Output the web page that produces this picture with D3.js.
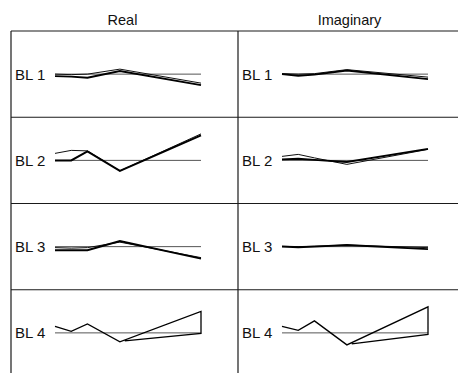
<!DOCTYPE html>
<html>
<head>
<meta charset="utf-8">
<script src="https://cdn.jsdelivr.net/npm/d3@7"></script>
<style>
  html, body { margin: 0; padding: 0; background: #fff; }
  svg { display: block; }
  text { font-family: "Liberation Sans", Arial, Helvetica, sans-serif; fill: #111; }
</style>
</head>
<body>
<svg id="chart"></svg>
<script>
"use strict";

// колонки и строки таблицы
var columns = ["Real", "Imaginary"];
var rows = ["BL 1", "BL 2", "BL 3", "BL 4"];

// отсчеты по горизонтали
var xSteps = [0, 1, 2, 4, 9];
var loopSteps = [9, 9, 4.3]; // обратный ход у BL 4

// значения (вверх = плюс), по строкам: [Real, Imaginary]
var thickReal = [
    [-2, -2.5, -3.5, 3, -11],
    [0, 0, 9, -10.5, 25],
    [-3.5, -3.5, -3.5, 5.5, -12],
    [6.5, 1.5, 9, -9, 21.5]
];
var thinReal = [
    [0, -0.5, 0, 5, -9],
    [7, 10, 9.5, -10.5, 26.5],
    [-1, -1.5, -1, 4.5, -11],
    null
];
var thickImag = [
    [0, -1.5, -0.5, 3.5, -5],
    [1, 1.5, 0.5, -1.5, 11.5],
    [0, -0.5, 0, 1.5, -2.5],
    [6.5, 2.5, 12, -12, 26]
];
var thinImag = [
    [0.5, 0, 0.5, 4.5, -3],
    [4, 6, 2.5, -4, 11],
    [0.5, 0, 0.5, 1.5, -1],
    null
];
var loopReal = [21.5, -0.5, -8];
var loopImag = [26, -1.5, -11];

var width = 458, height = 373;

var svg = d3.select("#chart")
    .attr("width", width)
    .attr("height", height);

var colScale = d3.scaleBand().domain(columns).range([11, 465]);
var rowScale = d3.scaleBand().domain(rows).range([31, 376]);

var xScale = d3.scaleLinear().domain([0, 9]).range([44, 190]);
var yScale = d3.scaleLinear().domain([-40, 40]).range([40, -40]);

// заголовки колонок
svg.selectAll("text.title")
    .data(columns)
    .enter().append("text")
    .attr("class", "title")
    .attr("x", (d) => colScale(d) + colScale.bandwidth() / 2 - 2)
    .attr("y", 25)
    .attr("text-anchor", "middle")
    .style("font-size", "14.5px")
    .text((d) => d);

// сетка
var grid = svg.append("g")
    .attr("stroke", "#1a1a1a")
    .attr("stroke-width", 1.2)
    .attr("fill", "none");

grid.selectAll("line.h")
    .data(rows.concat(["end"]))
    .enter().append("line")
    .attr("x1", 11).attr("x2", 465)
    .attr("y1", (d) => d === "end" ? 376 : rowScale(d))
    .attr("y2", (d) => d === "end" ? 376 : rowScale(d));

grid.selectAll("line.v")
    .data(columns.concat(["end"]))
    .enter().append("line")
    .attr("y1", 31).attr("y2", 376)
    .attr("x1", (d) => d === "end" ? 465 : colScale(d))
    .attr("x2", (d) => d === "end" ? 465 : colScale(d));

var line = d3.line()
    .x((d) => xScale(d[0]))
    .y((d) => yScale(d[1]));

function pairs(xs, ys) {
    return xs.map((x, i) => [x, ys[i]]);
}

columns.forEach(function(col, ci) {
    var thick = ci === 0 ? thickReal : thickImag;
    var thin = ci === 0 ? thinReal : thinImag;
    var loop = ci === 0 ? loopReal : loopImag;

    rows.forEach(function(row, ri) {
        var cell = svg.append("g")
            .attr("transform", `translate(${colScale(col)}, ${rowScale(row) + rowScale.bandwidth() / 2})`);

        cell.append("text")
            .attr("x", 4)
            .attr("y", 5.5)
            .style("font-size", "15px")
            .text(row);

        // нулевая линия
        cell.append("line")
            .attr("x1", xScale(0)).attr("x2", xScale(9))
            .attr("y1", yScale(0)).attr("y2", yScale(0))
            .attr("stroke", "#555")
            .attr("stroke-width", 1);

        if (thin[ri]) {
            cell.append("path")
                .attr("d", line(pairs(xSteps, thin[ri])))
                .attr("fill", "none")
                .attr("stroke", "#111")
                .attr("stroke-width", 1);
            cell.append("path")
                .attr("d", line(pairs(xSteps, thick[ri])))
                .attr("fill", "none")
                .attr("stroke", "#000")
                .attr("stroke-width", 2);
        } else {
            // BL 4 - тонкая петля
            cell.append("path")
                .attr("d", line(pairs(xSteps, thick[ri]).concat(pairs(loopSteps, loop))))
                .attr("fill", "none")
                .attr("stroke", "#000")
                .attr("stroke-width", 1.3)
                .attr("stroke-linejoin", "miter");
        }
    });
});
</script>
</body>
</html>
